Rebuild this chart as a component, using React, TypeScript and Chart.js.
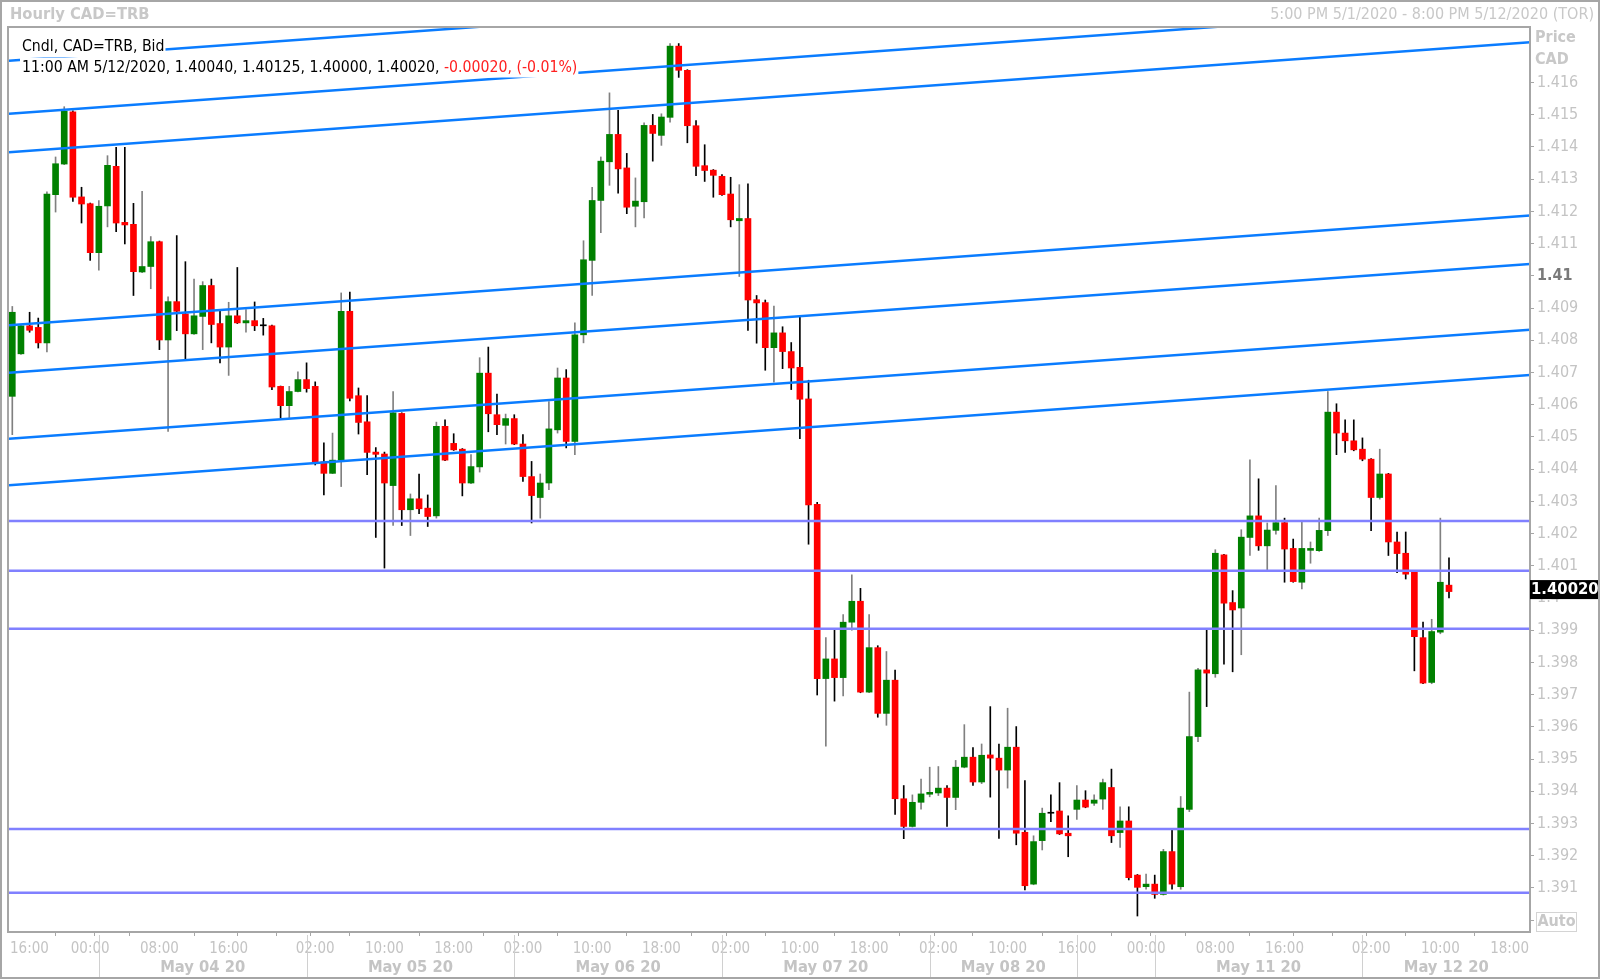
import React, { useEffect, useRef } from 'react';
import { Chart, registerables } from 'chart.js';

Chart.register(...registerables);

const FONT = "'DejaVu Sans Condensed', 'DejaVu Sans', sans-serif";

// Hourly OHLC candles (index = hour slot)
const opens = [
  1.40626, 1.40758, 1.40845, 1.40840, 1.40792, 1.41252, 1.41347, 1.41509, 1.41245, 1.41224,
  1.41072, 1.41217, 1.41340, 1.41166, 1.41160, 1.41012, 1.41029, 1.41106, 1.40801, 1.40920,
  1.40882, 1.40820, 1.40874, 1.40970, 1.40852, 1.40779, 1.40876, 1.40854, 1.40861, 1.40845,
  1.40845, 1.40657, 1.40597, 1.40641, 1.40678, 1.40657, 1.40423, 1.40387, 1.40428, 1.40890,
  1.40628, 1.40547, 1.40453, 1.40447, 1.40349, 1.40573, 1.40274, 1.40308, 1.40279, 1.40255,
  1.40533, 1.40480, 1.40462, 1.40357, 1.40407, 1.40698, 1.40569, 1.40536, 1.40557, 1.40478,
  1.40377, 1.40312, 1.40357, 1.40522, 1.40683, 1.40486, 1.40817, 1.41048, 1.41234, 1.41354,
  1.41439, 1.41335, 1.41216, 1.41230, 1.41467, 1.41436, 1.41492, 1.41713, 1.41638, 1.41466,
  1.41342, 1.41328, 1.41309, 1.41254, 1.41171, 1.41178, 1.40926, 1.40917, 1.40777, 1.40823,
  1.40765, 1.40716, 1.40618, 1.40291, 1.39750, 1.39811, 1.39753, 1.39925, 1.39990, 1.39708,
  1.39846, 1.39642, 1.39745, 1.39377, 1.39291, 1.39366, 1.39391, 1.39395, 1.39410, 1.39381,
  1.39475, 1.39506, 1.39429, 1.39513, 1.39503, 1.39466, 1.39537, 1.39273, 1.39112, 1.39247,
  1.39332, 1.39339, 1.39270, 1.39344, 1.39373, 1.39363, 1.39376, 1.39412, 1.39272, 1.39308,
  1.39140, 1.39104, 1.39112, 1.39080, 1.39213, 1.39104, 1.39344, 1.39570, 1.39777, 1.39765,
  1.40134, 1.39986, 1.39969, 1.40188, 1.40255, 1.40162, 1.40210, 1.40234, 1.40154, 1.40049,
  1.40148, 1.40147, 1.40209, 1.40577, 1.40512, 1.40488, 1.40462, 1.40431, 1.40312, 1.40385,
  1.40174, 1.40139, 1.40080, 1.39877, 1.39738, 1.39894, 1.40040,
];
const highs = [
  1.40905, 1.40848, 1.40887, 1.40869, 1.41261, 1.41369, 1.41525, 1.41512, 1.41275, 1.41226,
  1.41234, 1.41373, 1.41399, 1.41399, 1.41225, 1.41262, 1.41122, 1.41108, 1.40935, 1.41125,
  1.41044, 1.40990, 1.40982, 1.40990, 1.40890, 1.40918, 1.41026, 1.40895, 1.40919, 1.40868,
  1.40847, 1.40658, 1.40657, 1.40702, 1.40730, 1.40671, 1.40482, 1.40512, 1.40947, 1.40950,
  1.40652, 1.40628, 1.40467, 1.40453, 1.40641, 1.40575, 1.40323, 1.40385, 1.40320, 1.40546,
  1.40553, 1.40510, 1.40464, 1.40445, 1.40746, 1.40779, 1.40633, 1.40571, 1.40569, 1.40507,
  1.40424, 1.40385, 1.40610, 1.40714, 1.40709, 1.40854, 1.41109, 1.41275, 1.41369, 1.41568,
  1.41514, 1.41380, 1.41304, 1.41475, 1.41501, 1.41503, 1.41721, 1.41721, 1.41640, 1.41482,
  1.41407, 1.41330, 1.41314, 1.41306, 1.41283, 1.41286, 1.40939, 1.40925, 1.40906, 1.40842,
  1.40793, 1.40871, 1.40676, 1.40297, 1.39877, 1.39906, 1.39949, 1.40072, 1.40030, 1.39949,
  1.39852, 1.39834, 1.39776, 1.39418, 1.39389, 1.39438, 1.39475, 1.39477, 1.39418, 1.39496,
  1.39607, 1.39536, 1.39547, 1.39663, 1.39547, 1.39658, 1.39601, 1.39433, 1.39262, 1.39348,
  1.39389, 1.39427, 1.39324, 1.39418, 1.39402, 1.39389, 1.39438, 1.39469, 1.39352, 1.39352,
  1.39142, 1.39143, 1.39140, 1.39220, 1.39285, 1.39384, 1.39708, 1.39782, 1.39901, 1.40150,
  1.40136, 1.40023, 1.40212, 1.40429, 1.40370, 1.40233, 1.40349, 1.40248, 1.40183, 1.40236,
  1.40174, 1.40248, 1.40641, 1.40603, 1.40553, 1.40553, 1.40497, 1.40433, 1.40462, 1.40387,
  1.40205, 1.40205, 1.40082, 1.39925, 1.39934, 1.40248, 1.40125,
];
const lows = [
  1.40507, 1.40756, 1.40825, 1.40776, 1.40764, 1.41198, 1.41345, 1.41231, 1.41164, 1.41048,
  1.41018, 1.41152, 1.41137, 1.41099, 1.40939, 1.41010, 1.40960, 1.40771, 1.40517, 1.40830,
  1.40742, 1.40818, 1.40771, 1.40792, 1.40730, 1.40691, 1.40852, 1.40825, 1.40830, 1.40816,
  1.40647, 1.40559, 1.40559, 1.40640, 1.40639, 1.40413, 1.40320, 1.40386, 1.40346, 1.40612,
  1.40509, 1.40383, 1.40188, 1.40093, 1.40225, 1.40225, 1.40194, 1.40262, 1.40222, 1.40248,
  1.40426, 1.40458, 1.40317, 1.40355, 1.40391, 1.40516, 1.40507, 1.40478, 1.40476, 1.40362,
  1.40233, 1.40248, 1.40336, 1.40512, 1.40466, 1.40445, 1.40792, 1.40939, 1.41134, 1.41281,
  1.41257, 1.41193, 1.41152, 1.41180, 1.41356, 1.41405, 1.41477, 1.41616, 1.41413, 1.41311,
  1.41293, 1.41244, 1.41250, 1.41152, 1.40998, 1.40831, 1.40791, 1.40707, 1.40670, 1.40712,
  1.40647, 1.40495, 1.40167, 1.39699, 1.39540, 1.39680, 1.39696, 1.39900, 1.39706, 1.39706,
  1.39630, 1.39605, 1.39328, 1.39253, 1.39289, 1.39345, 1.39383, 1.39387, 1.39291, 1.39343,
  1.39473, 1.39418, 1.39424, 1.39382, 1.39254, 1.39410, 1.39234, 1.39094, 1.39110, 1.39218,
  1.39306, 1.39266, 1.39197, 1.39313, 1.39349, 1.39356, 1.39344, 1.39241, 1.39226, 1.39125,
  1.39013, 1.39096, 1.39068, 1.39078, 1.39096, 1.39096, 1.39337, 1.39554, 1.39663, 1.39754,
  1.39795, 1.39771, 1.39824, 1.40132, 1.40148, 1.40088, 1.40198, 1.40049, 1.40049, 1.40028,
  1.40108, 1.40145, 1.40194, 1.40445, 1.40452, 1.40457, 1.40426, 1.40209, 1.40307, 1.40132,
  1.40079, 1.40059, 1.39774, 1.39734, 1.39734, 1.39889, 1.40000,
];
const closes = [
  1.40887, 1.40845, 1.40831, 1.40792, 1.41254, 1.41348, 1.41511, 1.41244, 1.41223, 1.41072,
  1.41216, 1.41343, 1.41164, 1.41158, 1.41013, 1.41029, 1.41106, 1.40801, 1.40920, 1.40890,
  1.40820, 1.40876, 1.40970, 1.40849, 1.40779, 1.40876, 1.40854, 1.40861, 1.40845, 1.40845,
  1.40655, 1.40597, 1.40641, 1.40678, 1.40650, 1.40423, 1.40387, 1.40428, 1.40890, 1.40620,
  1.40545, 1.40452, 1.40446, 1.40357, 1.40575, 1.40274, 1.40308, 1.40277, 1.40253, 1.40533,
  1.40428, 1.40460, 1.40357, 1.40408, 1.40698, 1.40572, 1.40538, 1.40557, 1.40478, 1.40377,
  1.40318, 1.40357, 1.40525, 1.40683, 1.40486, 1.40817, 1.41050, 1.41234, 1.41356, 1.41439,
  1.41332, 1.41213, 1.41232, 1.41467, 1.41442, 1.41493, 1.41713, 1.41638, 1.41466, 1.41340,
  1.41327, 1.41312, 1.41252, 1.41174, 1.41178, 1.40925, 1.40916, 1.40777, 1.40823, 1.40765,
  1.40714, 1.40617, 1.40289, 1.39750, 1.39811, 1.39753, 1.39925, 1.39990, 1.39708, 1.39846,
  1.39642, 1.39745, 1.39377, 1.39291, 1.39366, 1.39392, 1.39397, 1.39410, 1.39381, 1.39475,
  1.39506, 1.39429, 1.39512, 1.39503, 1.39466, 1.39537, 1.39270, 1.39107, 1.39244, 1.39332,
  1.39332, 1.39268, 1.39262, 1.39373, 1.39351, 1.39373, 1.39427, 1.39262, 1.39308, 1.39132,
  1.39102, 1.39112, 1.39080, 1.39213, 1.39112, 1.39348, 1.39570, 1.39777, 1.39767, 1.40139,
  1.39984, 1.39963, 1.40189, 1.40255, 1.40162, 1.40211, 1.40234, 1.40152, 1.40051, 1.40154,
  1.40154, 1.40210, 1.40577, 1.40512, 1.40488, 1.40460, 1.40431, 1.40312, 1.40385, 1.40174,
  1.40138, 1.40074, 1.39880, 1.39736, 1.39896, 1.40049, 1.40020,
];

// Horizontal support / resistance levels
const levels = [1.40239, 1.40085, 1.39905, 1.39283, 1.39085];

// Rising channel lines: price at left edge and at right edge of the plot
const trendStart = [1.41668, 1.41503, 1.41384, 1.40847, 1.40699, 1.40494, 1.40350];
const trendEnd = [1.42008, 1.41843, 1.41725, 1.41187, 1.41037, 1.40833, 1.40692];

// X axis (hour slots)
const X_MIN = -0.381;
const X_MAX = 175.36;
const timeTickIdx = [1, 9, 17, 25, 35, 43, 51, 59, 67, 75, 83, 91, 99, 107, 115, 123, 131, 139, 147, 157, 165, 173];
const timeTickLabels = ['16:00', '00:00', '08:00', '16:00', '02:00', '10:00', '18:00', '02:00', '10:00', '18:00', '02:00', '10:00', '18:00', '02:00', '10:00', '16:00', '00:00', '08:00', '16:00', '02:00', '10:00', '18:00'];
const extraTickIdx = [10, 27, 34, 58, 82, 106, 132, 149, 156];
const daySepIdx = [10, 34, 58, 82, 106, 123, 132, 156];
const dayLabels = ['May 04 20', 'May 05 20', 'May 06 20', 'May 07 20', 'May 08 20', '', 'May 11 20', 'May 12 20'];

// Price axis
const Y_MIN = 1.389634;
const Y_MAX = 1.417724;
const Y_LABEL_MAX = 1.416;
const boldTick = 1.41;

const GREEN = '#008000';
const RED = '#ff0000';
const LABEL_GRAY = '#c4c4c4';

const decorPlugin = {
  id: 'decor',
  beforeDraw(chart: any) {
    const { ctx, width, height } = chart;
    ctx.save();
    ctx.fillStyle = '#ffffff';
    ctx.fillRect(0, 0, width, height);
    ctx.restore();
  },
  afterDatasetsDraw(chart: any) {
    const { ctx, chartArea } = chart;
    ctx.save();
    // plot frame
    ctx.strokeStyle = '#a6a6a6';
    ctx.lineWidth = 2;
    ctx.strokeRect(chartArea.left - 1, chartArea.top, chartArea.right - chartArea.left + 1, chartArea.bottom - chartArea.top);

    // legend text with white backgrounds
    ctx.font = `15.7px ${FONT}`;
    ctx.textBaseline = 'middle';
    ctx.textAlign = 'left';
    const x0 = 22;
    const line1 = 'Cndl, CAD=TRB, Bid';
    const i = closes.length - 1;
    const line2a = `11:00 AM 5/12/2020, ${opens[i].toFixed(5)}, ${highs[i].toFixed(5)}, ${lows[i].toFixed(5)}, ${closes[i].toFixed(5)}, `;
    const ch = closes[i] - opens[i];
    const line2b = `${ch.toFixed(5)}, (${((ch / opens[i]) * 100).toFixed(2)}%)`;
    const w1 = ctx.measureText(line1).width;
    const w2a = ctx.measureText(line2a).width;
    const w2b = ctx.measureText(line2b).width;
    ctx.fillStyle = '#ffffff';
    ctx.fillRect(x0 - 2, 37, w1 + 3, 20);
    ctx.fillRect(x0 - 2, 57.5, w2a + w2b + 3, 20);
    ctx.fillStyle = '#000000';
    ctx.fillText(line1, x0, 47);
    ctx.fillText(line2a, x0, 67.5);
    ctx.fillStyle = '#ff2020';
    ctx.fillText(line2b, x0 + w2a, 67.5);
    ctx.restore();
  },
  afterDraw(chart: any) {
    const { ctx, chartArea, width } = chart;
    const xs = chart.scales.x;
    const ys = chart.scales.y;
    ctx.save();
    ctx.textBaseline = 'middle';

    // titles
    ctx.fillStyle = '#c8c8c8';
    ctx.font = `bold 16.4px ${FONT}`;
    ctx.textAlign = 'left';
    ctx.fillText('Hourly CAD=TRB', 10, 15);
    ctx.font = `16px ${FONT}`;
    ctx.textAlign = 'right';
    ctx.fillText('5:00 PM 5/1/2020 - 8:00 PM 5/12/2020 (TOR)', width - 6, 15);

    // price axis header
    ctx.textAlign = 'left';
    ctx.font = `bold 16px ${FONT}`;
    ctx.fillText('Price', chartArea.right + 5, 38);
    ctx.fillText('CAD', chartArea.right + 5, 60);

    // Auto box
    ctx.fillStyle = '#ffffff';
    ctx.fillRect(chartArea.right + 6, chartArea.bottom - 20, 41, 20);
    ctx.strokeStyle = '#d4d4d4';
    ctx.lineWidth = 1;
    ctx.strokeRect(chartArea.right + 6.5, chartArea.bottom - 19.5, 40, 19);
    ctx.fillStyle = '#c8c8c8';
    ctx.textAlign = 'center';
    ctx.fillText('Auto', chartArea.right + 26.5, chartArea.bottom - 10);

    // time labels under the x ticks
    ctx.fillStyle = LABEL_GRAY;
    ctx.font = `15px ${FONT}`;
    timeTickIdx.forEach((t, k) => {
      const w = ctx.measureText(timeTickLabels[k]).width;
      let x = xs.getPixelForValue(t);
      x = Math.max(x, chartArea.left + w / 2 + 1);
      ctx.fillText(timeTickLabels[k], x, 949);
    });

    // last price marker
    const last = closes[closes.length - 1];
    const py = ys.getPixelForValue(last) - 2;
    ctx.fillStyle = '#000000';
    ctx.fillRect(chartArea.right, py - 9.5, 68, 19);
    ctx.fillStyle = '#ffffff';
    ctx.textAlign = 'left';
    ctx.font = `bold 16.5px ${FONT}`;
    ctx.fillText(last.toFixed(5), chartArea.right + 1, py);

    // day separators and day labels
    ctx.strokeStyle = '#d0d0d0';
    ctx.lineWidth = 1;
    const yTop = chartArea.bottom + 3;
    const yBot = 977;
    daySepIdx.forEach((d) => {
      const x = Math.round(xs.getPixelForValue(d)) + 0.5;
      ctx.beginPath();
      ctx.moveTo(x, yTop);
      ctx.lineTo(x, yBot);
      ctx.stroke();
    });
    ctx.fillStyle = LABEL_GRAY;
    ctx.font = `bold 16.4px ${FONT}`;
    ctx.textAlign = 'center';
    daySepIdx.forEach((d, k) => {
      if (!dayLabels[k]) return;
      const a = xs.getPixelForValue(d);
      const b = k + 1 < daySepIdx.length ? xs.getPixelForValue(daySepIdx[k + 1]) : chartArea.right;
      ctx.fillText(dayLabels[k], (a + b) / 2, 967.5);
    });

    // outer frame
    ctx.strokeStyle = '#a6a6a6';
    ctx.lineWidth = 2;
    ctx.strokeRect(1, 1, width - 2, 977);
    ctx.restore();
  },
};

export default function App() {
  const ref = useRef<HTMLCanvasElement>(null);

  useEffect(() => {
    const canvas = ref.current;
    if (!canvas) return;
    const idx = opens.map((_, i) => i);
    const bodyColors = idx.map((i) => (opens[i] === closes[i] ? '#000000' : closes[i] > opens[i] ? GREEN : RED));
    const wickColors = idx.map((i) => (closes[i] > opens[i] ? '#808080' : '#000000'));

    const datasets: any[] = [];
    trendStart.forEach((p, k) => {
      datasets.push({
        type: 'line',
        data: [{ x: X_MIN, y: p }, { x: X_MAX, y: trendEnd[k] }],
        borderColor: '#0a7cff',
        borderWidth: 2.5,
        pointRadius: 0,
        clip: 0,
        order: 0,
      });
    });
    levels.forEach((lv) => {
      datasets.push({
        type: 'line',
        data: [{ x: X_MIN, y: lv }, { x: X_MAX, y: lv }],
        borderColor: '#8080ff',
        borderWidth: 2.5,
        pointRadius: 0,
        clip: 0,
        order: 1,
      });
    });
    datasets.push({
      type: 'bar',
      data: idx.map((i) => ({ x: i, y: [opens[i], closes[i]] })),
      backgroundColor: bodyColors,
      borderWidth: 0,
      barThickness: 6,
      minBarLength: 1,
      grouped: false,
      order: 2,
    });
    datasets.push({
      type: 'bar',
      data: idx.map((i) => ({ x: i, y: [lows[i], highs[i]] })),
      backgroundColor: wickColors,
      borderWidth: 0,
      barThickness: 1,
      grouped: false,
      order: 3,
    });

    const tickIdx = [...timeTickIdx, ...extraTickIdx].sort((a, b) => a - b);
    const hiddenTick = (v: number) => v > Y_LABEL_MAX + 0.0005;

    const chart = new Chart(canvas, {
      type: 'bar',
      data: { datasets },
      plugins: [decorPlugin],
      options: {
        animation: false,
        responsive: false,
        devicePixelRatio: 1,
        events: [],
        layout: { padding: { left: 9, top: 27, right: 0, bottom: 0 } },
        plugins: { legend: { display: false }, tooltip: { enabled: false }, title: { display: false } },
        scales: {
          x: {
            type: 'linear',
            min: X_MIN,
            max: X_MAX,
            offset: false,
            border: { display: false },
            grid: { display: true, drawOnChartArea: false, drawTicks: true, tickLength: 4, color: '#a6a6a6' },
            afterBuildTicks: (scale: any) => {
              scale.ticks = tickIdx.map((v) => ({ value: v }));
            },
            afterFit: (scale: any) => {
              scale.height = 48;
              scale.paddingLeft = 0;
              scale.paddingRight = 0;
            },
            ticks: {
              autoSkip: false,
              maxRotation: 0,
              padding: 3,
              color: LABEL_GRAY,
              font: { family: FONT, size: 15 },
              callback: () => '',
            },
          },
          y: {
            type: 'linear',
            position: 'right',
            min: Y_MIN,
            max: Y_MAX,
            border: { display: false },
            grid: {
              display: true,
              drawOnChartArea: false,
              drawTicks: true,
              tickLength: 4,
              color: (c: any) => (c.tick && hiddenTick(c.tick.value) ? 'rgba(0,0,0,0)' : '#a6a6a6'),
            },
            afterFit: (scale: any) => {
              scale.width = 70;
              scale.paddingTop = 0;
              scale.paddingBottom = 0;
            },
            ticks: {
              stepSize: 0.001,
              includeBounds: false,
              padding: 3,
              color: (c: any) => (c.tick && Math.abs(c.tick.value - boldTick) < 1e-7 ? '#7a7a7a' : LABEL_GRAY),
              font: (c: any) => ({
                family: FONT,
                size: 16,
                weight: c.tick && Math.abs(c.tick.value - boldTick) < 1e-7 ? 'bold' : 'normal',
              }),
              callback: (value: any) => {
                const r = Math.round(Number(value) * 1000) / 1000;
                if (hiddenTick(r)) return '';
                return String(r);
              },
            },
          },
        },
      } as any,
    });
    return () => chart.destroy();
  }, []);

  return (
    <div style={{ position: 'absolute', left: 0, top: 0, width: 1600, height: 980 }}>
      <canvas ref={ref} width={1600} height={980} style={{ width: 1600, height: 980, display: 'block' }} />
    </div>
  );
}
